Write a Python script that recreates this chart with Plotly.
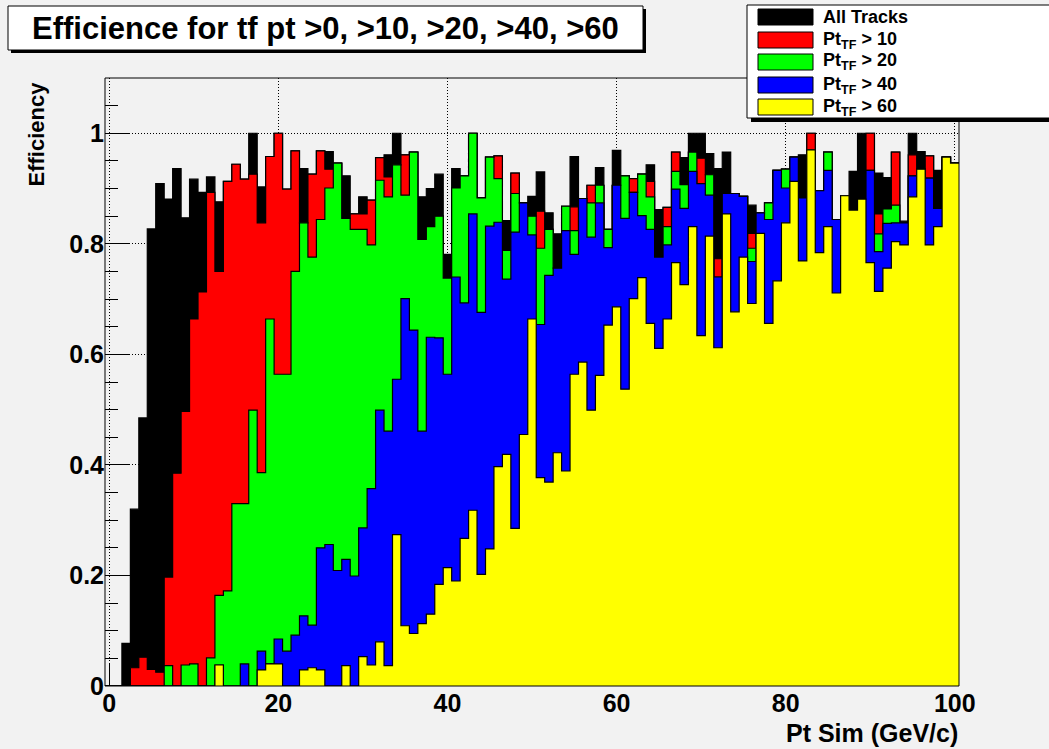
import plotly.graph_objects as go

# ---- data: efficiency per 1 GeV/c bin, bins centred on 0..100 ----
pt_centers = list(range(0, 101))

eff_all = [0, 0, .077, .320, .485, .827, .909, .881, .936, .847,
           .917, .893, .921, .876, .913, .944, .917, 1.0, .903, .958,
           1.0, .899, .968, .936, .926, .968, .967, .946, .923, .854,
           .885, .879, .956, .961, 1.0, .961, .966, .885, .900, .926,
           .781, .936, .923, 1.0, .883, .957, .959, .842, .928, .874,
           .886, .930, .856, .818, .868, .958, .882, .906, .938, .826,
           .969, .923, .918, .926, .943, .862, .866, .966, .956, 1.0,
           1.0, .963, .936, .966, .891, .886, .870, .856, .874, .933,
           .935, .957, .961, 1.0, .896, .966, .844, .887, .931, 1.0,
           1.0, .928, .920, .966, .841, 1.0, .967, .959, .933, .957,
           .946]

eff_pt10 = [0, 0, 0, .033, .052, .030, .025, .197, .385, .497,
            .664, .713, .893, .750, .913, .944, .917, .926, .838, .958,
            1.0, .899, .968, .838, .926, .968, .935, .946, .846, .854,
            .854, .879, .956, .921, .943, .961, .966, .808, .831, .850,
            .738, .901, .923, 1.0, .883, .957, .959, .788, .928, .874,
            .850, .859, .826, .756, .868, .867, .882, .906, .906, .826,
            .906, .923, .918, .926, .913, .776, .866, .966, .907, .966,
            .955, .925, .773, .891, .891, .886, .819, .856, .874, .933,
            .935, .957, .883, 1.0, .896, .966, .844, .887, .861, .881,
            1.0, .854, .863, .966, .838, .961, .935, .959, .864, .957,
            .946]

eff_pt20 = [0, 0, 0, 0, 0, 0, 0, .037, 0, .038,
            .040, 0, .051, .164, .172, .330, .330, .499, .386, .664,
            .564, .564, .750, .838, .776, .844, .901, .946, .846, .826,
            .826, .798, .915, .885, .943, .888, .966, .808, .831, .850,
            .738, .901, .923, 1.0, .883, .957, .918, .788, .891, .874,
            .850, .792, .826, .756, .868, .824, .882, .874, .906, .826,
            .906, .923, .893, .926, .885, .776, .831, .931, .907, .966,
            .909, .925, .740, .891, .891, .886, .792, .856, .874, .933,
            .935, .957, .883, .970, .896, .966, .844, .887, .861, .881,
            .933, .818, .863, .870, .838, .923, .935, .919, .864, .957,
            .946]

eff_pt40 = [0, 0, 0, 0, 0, 0, 0, 0, 0, 0,
            0, 0, 0, .038, 0, 0, .040, 0, .063, .040,
            .085, .063, .092, .127, .110, .250, .256, .209, .229, .199,
            .286, .357, .499, .461, .555, .701, .644, .461, .631, .630,
            .564, .740, .693, .854, .676, .832, .839, .736, .821, .874,
            .816, .654, .743, .756, .824, .781, .882, .812, .874, .793,
            .906, .846, .893, .851, .826, .776, .798, .899, .864, .931,
            .909, .888, .740, .891, .891, .886, .768, .856, .844, .933,
            .901, .957, .883, .970, .896, .933, .844, .887, .861, .881,
            .933, .786, .837, .838, .838, .923, .935, .919, .864, .957,
            .946]

eff_pt60 = [0, 0, 0, 0, 0, 0, 0, 0, 0, 0,
            0, 0, 0, .038, 0, 0, 0, 0, .029, .040,
            .040, 0, 0, .029, .033, .029, 0, 0, .037, 0,
            .053, .038, .080, .037, .274, .109, .095, .113, .130, .184,
            .214, .190, .267, .318, .202, .248, .397, .419, .285, .455,
            .664, .377, .369, .422, .389, .564, .586, .499, .562, .653,
            .686, .537, .701, .739, .656, .611, .664, .766, .726, .831,
            .634, .814, .612, .854, .677, .776, .692, .819, .656, .733,
            .838, .913, .769, .970, .784, .831, .711, .887, .861, .881,
            .766, .714, .756, .804, .798, .885, .935, .798, .831, .957,
            .946]

series_names = ["All Tracks", "Pt<sub>TF</sub> &gt; 10", "Pt<sub>TF</sub> &gt; 20",
                "Pt<sub>TF</sub> &gt; 40", "Pt<sub>TF</sub> &gt; 60"]
series_values = [eff_all, eff_pt10, eff_pt20, eff_pt40, eff_pt60]
series_colors = ["#000000", "#ff0000", "#00ff00", "#0000ff", "#ffff00"]

x_ticks = [0, 20, 40, 60, 80, 100]

# ---- figure geometry (pixels) ----
W, H = 1049, 749
L, R, T, B = 105, 90, 78, 63
PW, PH = W - L - R, H - T - B


def px_x(px):
    return (px - L) / PW


def px_y(py):
    return (H - B - py) / PH


FONT = "Liberation Sans, Arial, sans-serif"
BG = "#f2f2f2"

fig = go.Figure()

for name, vals, col in zip(series_names, series_values, series_colors):
    edges = [c - 0.5 for c in pt_centers] + [pt_centers[-1] + 0.5]
    ys = list(vals) + [vals[-1]]
    fig.add_trace(go.Scatter(
        x=edges, y=ys, mode="lines", name=name,
        line=dict(shape="hv", color="black", width=1.2),
        fill="tozeroy", fillcolor=col, showlegend=False, hoverinfo="skip"))

fig.update_layout(
    width=W, height=H,
    margin=dict(l=L, r=R, t=T, b=B, pad=0),
    paper_bgcolor=BG, plot_bgcolor=BG,
    font=dict(family=FONT, color="black"),
    showlegend=False,
)

fig.update_xaxes(
    range=[-0.5, 100.5], tickmode="array", tickvals=x_ticks,
    ticks="inside", ticklen=22, tickwidth=1, tickcolor="black",
    minor=dict(tickmode="linear", tick0=0, dtick=5, ticks="inside", ticklen=11, tickcolor="black", showgrid=False),
    showgrid=True, gridcolor="black", gridwidth=1, griddash="1px,2px",
    zeroline=False, showline=False, layer="below traces",
    tickfont=dict(family=FONT, size=25, weight="bold"),
)
fig.update_yaxes(
    range=[0, 1.1], tickmode="linear", tick0=0, dtick=0.2,
    ticks="inside", ticklen=25, tickwidth=1, tickcolor="black",
    minor=dict(tickmode="linear", tick0=0, dtick=0.05, ticks="inside", ticklen=13, tickcolor="black", showgrid=False),
    showgrid=True, gridcolor="black", gridwidth=1, griddash="1px,2px",
    zeroline=False, showline=False, layer="below traces",
    tickfont=dict(family=FONT, size=25, weight="bold"),
)

shapes = []
# frame
shapes.append(dict(type="rect", xref="paper", yref="paper", x0=0, x1=1, y0=0, y1=1,
                   line=dict(color="black", width=1), fillcolor="rgba(0,0,0,0)", layer="above"))
# title box with shadow
shapes.append(dict(type="rect", xref="paper", yref="paper", x0=px_x(11), x1=px_x(646),
                   y0=px_y(53), y1=px_y(9), line=dict(width=0), fillcolor="black"))
shapes.append(dict(type="rect", xref="paper", yref="paper", x0=px_x(8), x1=px_x(643),
                   y0=px_y(50), y1=px_y(6), line=dict(color="black", width=1), fillcolor="white"))
# legend box with shadow
shapes.append(dict(type="rect", xref="paper", yref="paper", x0=px_x(751), x1=px_x(1070),
                   y0=px_y(122), y1=px_y(100), line=dict(width=0), fillcolor="black"))
shapes.append(dict(type="rect", xref="paper", yref="paper", x0=px_x(747), x1=px_x(1070),
                   y0=px_y(118), y1=px_y(5), line=dict(color="black", width=1), fillcolor="white"))

annotations = []
row_centers = [17, 40, 62, 85, 107]
for name, col, yc in zip(series_names, series_colors, row_centers):
    shapes.append(dict(type="rect", xref="paper", yref="paper", x0=px_x(758), x1=px_x(813),
                       y0=px_y(yc + 8), y1=px_y(yc - 8), line=dict(color="black", width=1), fillcolor=col))
    annotations.append(dict(text=name, xref="paper", yref="paper", x=px_x(821), y=px_y(yc),
                            xanchor="left", yanchor="middle", showarrow=False,
                            font=dict(family=FONT, size=18, weight="bold")))

annotations.append(dict(text="Efficience for tf pt &gt;0, &gt;10, &gt;20, &gt;40, &gt;60",
                        xref="paper", yref="paper", x=px_x(325), y=px_y(28),
                        xanchor="center", yanchor="middle", showarrow=False,
                        font=dict(family=FONT, size=31, weight="bold")))
annotations.append(dict(text="Efficiency", xref="paper", yref="paper", x=px_x(36), y=px_y(80),
                        xanchor="center", yanchor="top", textangle=-90, showarrow=False,
                        font=dict(family=FONT, size=22, weight="bold")))
annotations.append(dict(text="Pt Sim (GeV/c)", xref="paper", yref="paper", x=px_x(960), y=px_y(733),
                        xanchor="right", yanchor="middle", showarrow=False,
                        font=dict(family=FONT, size=25, weight="bold")))

fig.update_layout(shapes=shapes, annotations=annotations)

fig.write_html("out.html")
